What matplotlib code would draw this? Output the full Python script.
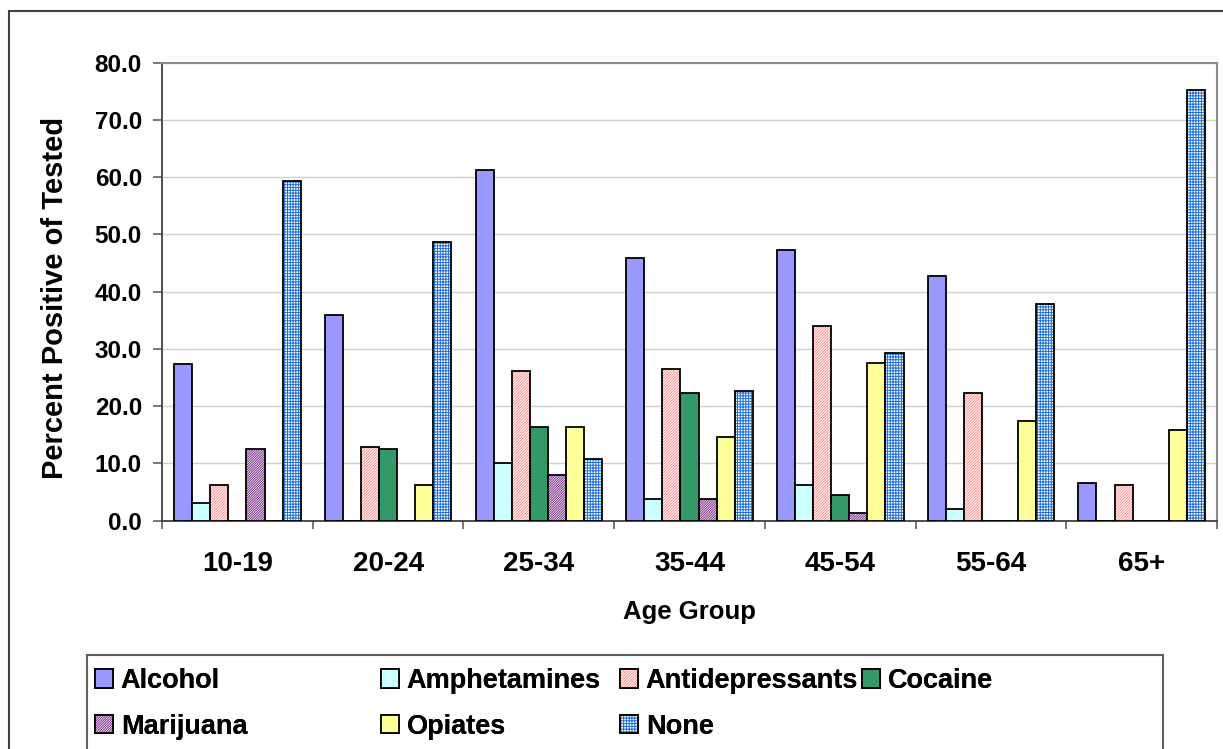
"""Percent positive of tested, by age group and substance (Excel-style grouped bars)."""
import matplotlib
matplotlib.use("Agg")
import matplotlib.pyplot as plt
from matplotlib.patches import Patch, Rectangle
from matplotlib.ticker import FormatStrFormatter, FixedLocator
import numpy as np

plt.rcParams["font.family"] = ["Liberation Sans", "DejaVu Sans"]
plt.rcParams["font.weight"] = "bold"
plt.rcParams["axes.labelweight"] = "bold"
plt.rcParams["hatch.linewidth"] = 0.7

age_groups = ["10-19", "20-24", "25-34", "35-44", "45-54", "55-64", "65+"]

alcohol = [27.3, 36.0, 61.2, 45.8, 47.2, 42.7, 6.6]
amphetamines = [3.1, 0.0, 10.0, 3.8, 6.3, 2.0, 0.0]
antidepressants = [6.3, 12.9, 26.2, 26.5, 34.0, 22.3, 6.3]
cocaine = [0.0, 12.6, 16.4, 22.3, 4.5, 0.0, 0.0]
marijuana = [12.6, 0.0, 8.0, 3.8, 1.4, 0.0, 0.0]
opiates = [0.0, 6.3, 16.4, 14.6, 27.6, 17.5, 15.8]
none = [59.3, 48.7, 10.8, 22.7, 29.3, 37.8, 75.3]

# name, values, face colour, hatch, hatch colour
series = [
    ("Alcohol", alcohol, "#9999FF", None, None),
    ("Amphetamines", amphetamines, "#CCFFFF", None, None),
    ("Antidepressants", antidepressants, "white", "/" * 12, "#FF8C8C"),
    ("Cocaine", cocaine, "#339966", None, None),
    ("Marijuana", marijuana, "white", "/" * 14, "#7A2E8A"),
    ("Opiates", opiates, "#FFFF99", None, None),
    ("None", none, "white", "+" * 6, "#1F6FD6"),
]

fig = plt.figure(figsize=(12.23, 7.49), dpi=100)
ax = fig.add_axes([0.1325, 0.3048, 0.8626, 0.6115])

x = np.arange(len(age_groups))
width = 0.12
handles = []
for i, (name, vals, face, hatch, hcol) in enumerate(series):
    pos = x + (i - 3) * width
    if hatch:
        ax.bar(pos, vals, width, facecolor=face, edgecolor=hcol, hatch=hatch,
               linewidth=0, zorder=3)
        ax.bar(pos, vals, width, fill=False, edgecolor="black", linewidth=1.3,
               zorder=4)
        h = (Patch(facecolor=face, edgecolor=hcol, hatch=hatch, linewidth=0),
             Patch(fill=False, edgecolor="black", linewidth=1.3))
    else:
        ax.bar(pos, vals, width, color=face, edgecolor="black", linewidth=1.3,
               zorder=3)
        h = Patch(facecolor=face, edgecolor="black", linewidth=1.3)
    handles.append((h, name))

ax.set_xlim(-0.5, len(age_groups) - 0.5)
ax.set_ylim(0, 80)
ax.set_yticks(np.arange(0, 81, 10))
ax.yaxis.set_major_formatter(FormatStrFormatter("%.1f"))
ax.grid(axis="y", color="#D0D0D0", lw=1, zorder=0)

ax.xaxis.set_major_locator(FixedLocator(np.arange(-0.5, len(age_groups), 1)))
ax.xaxis.set_minor_locator(FixedLocator(x))
ax.set_xticklabels([])
ax.set_xticklabels(age_groups, minor=True)
ax.tick_params(axis="x", which="minor", length=0, pad=22, labelsize=20)
ax.tick_params(axis="x", which="major", length=6, width=1.2, color="#606060")
ax.tick_params(axis="y", length=6.5, width=1.2, color="#606060", pad=8,
               labelsize=17.5)

for side in ("top", "right"):
    ax.spines[side].set_color("#8C8C8C")
    ax.spines[side].set_linewidth(1.5)
for side in ("left", "bottom"):
    ax.spines[side].set_color("#404040")
    ax.spines[side].set_linewidth(1.3)

ax.set_ylabel("Percent Positive of Tested", fontsize=21, va="center")
ax.yaxis.set_label_coords(-0.1014, 0.487)
ax.set_xlabel("Age Group", fontsize=18.5, va="center")
ax.xaxis.set_label_coords(0.5, -0.2)

# outer chart border (runs off the right and bottom edges)
fig.patches.append(Rectangle((9 / 1223, -0.1), 1.2, 1.1 - 11 / 749,
                             transform=fig.transFigure, fill=False,
                             edgecolor="#404040", lw=1.5))
# legend box
fig.patches.append(Rectangle((87 / 1223, -0.01), (1163 - 87) / 1223,
                             1 - 655 / 749 + 0.01, transform=fig.transFigure,
                             facecolor="white", edgecolor="#606060", lw=1.5))

# Excel lays the legend out row by row in equal-ish columns
col_x = [95, 381, 620, 862]
rows = [handles[0:4], handles[4:7]]
for c, cx in enumerate(col_x):
    col = [r[c] for r in rows if c < len(r)]
    leg = fig.legend([h for h, _ in col], [n for _, n in col],
                     loc="upper left", bbox_to_anchor=(cx / 1223, 1 - 668 / 749),
                     frameon=False, fontsize=19.5, handlelength=0.65,
                     handleheight=0.65, handletextpad=0.3, labelspacing=0.72,
                     borderpad=0, borderaxespad=0)
    fig.add_artist(leg)

fig.savefig("out.png", dpi=100)
